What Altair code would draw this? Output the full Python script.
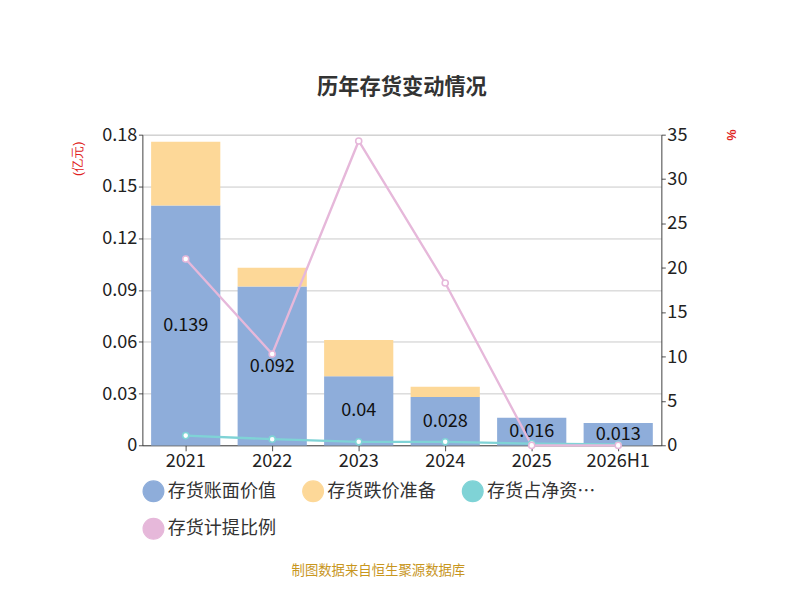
import altair as alt
import pandas as pd

years = ["2021", "2022", "2023", "2024", "2025", "2026H1"]
book_value = [0.139, 0.092, 0.04, 0.028, 0.016, 0.013]
reserve = [0.037, 0.011, 0.021, 0.006, 0.0, 0.0]
net_asset_ratio = [1.1, 0.7, 0.4, 0.4, 0.2, 0.1]
provision_ratio = [21.0, 10.3, 34.3, 18.3, 0.0, 0.0]

names = ["存货账面价值", "存货跌价准备", "存货占净资产比例", "存货计提比例"]
colors = ["#8eadda", "#fdd898", "#7fd3d6", "#e6b8da"]
font = "Noto Sans CJK SC"
fs = 23

bars = pd.DataFrame({
    "year": years * 2,
    "series": [names[0]] * 6 + [names[1]] * 6,
    "value": book_value + reserve,
    "order": [0] * 6 + [1] * 6,
})
labels = pd.DataFrame({"year": years, "value": book_value, "mid": [v / 2 for v in book_value]})
lines = pd.DataFrame({
    "year": years * 2,
    "series": [names[2]] * 6 + [names[3]] * 6,
    "ratio": net_asset_ratio + provision_ratio,
})

color = alt.Color("series:N", scale=alt.Scale(domain=names, range=colors),
                  legend=alt.Legend(title=None, orient="bottom", columns=3, labelFontSize=fs,
                                    labelFont=font, symbolSize=700, symbolType="circle",
                                    columnPadding=30, rowPadding=14, labelColor="#333", offset=12))
x = alt.X("year:N", sort=years, title=None,
          axis=alt.Axis(labelAngle=0, labelFontSize=fs, labelFont=font, labelColor="#222",
                        domainColor="#222", tickColor="#222", tickSize=7))

bar = alt.Chart(bars).mark_bar(width=88).encode(
    x=x,
    y=alt.Y("value:Q", stack="zero", title="(亿元)",
            scale=alt.Scale(domain=[0, 0.18]),
            axis=alt.Axis(values=[0, 0.03, 0.06, 0.09, 0.12, 0.15, 0.18], format="~g",
                          labelFontSize=fs, labelFont=font, labelColor="#222",
                          titleColor="#e02020", titleFontSize=16, titleFontWeight="normal",
                          titleAngle=-90, titleX=-75, titleY=30, domainColor="#222",
                          tickColor="#222", gridColor="#bbb")),
    color=color,
    order=alt.Order("order:Q"),
)
text = alt.Chart(labels).mark_text(fontSize=fs, font=font, color="#111").encode(
    x=alt.X("year:N", sort=years), y=alt.Y("mid:Q"), text=alt.Text("value:Q", format="~g"))

footer = alt.Chart(pd.DataFrame({"t": ["制图数据来自恒生聚源数据库"]})).mark_text(
    fontSize=17, font=font, color="#c8961e").encode(
    x=alt.value(300), y=alt.value(555), text="t:N")

base_line = alt.Chart(lines).encode(
    x=alt.X("year:N", sort=years),
    y=alt.Y("ratio:Q", title="%", scale=alt.Scale(domain=[0, 35]),
            axis=alt.Axis(orient="right", values=list(range(0, 36, 5)), labelFontSize=fs,
                          labelFont=font, labelColor="#222", grid=False, domainColor="#222",
                          tickColor="#222", titleColor="#e02020", titleFontSize=16,
                          titleAngle=90, titleY=0, titleX=80)),
    color=alt.Color("series:N", scale=alt.Scale(domain=names, range=colors), legend=None),
)
line = base_line.mark_line(strokeWidth=3)
pts = base_line.mark_point(filled=False, fill="white", fillOpacity=1, size=60, strokeWidth=2)

left = alt.layer(bar, text, footer)
chart = alt.layer(left, line + pts).resolve_scale(y="independent").properties(
    width=660, height=395,
    title=alt.Title("历年存货变动情况", fontSize=27, font=font, fontWeight="bold", color="#333",
                    offset=35),
).configure_view(stroke=None).configure(padding={"left": 80, "top": 0, "right": 70, "bottom": 5})

chart.save("out.html", embed_options={"renderer": "svg", "actions": False})
